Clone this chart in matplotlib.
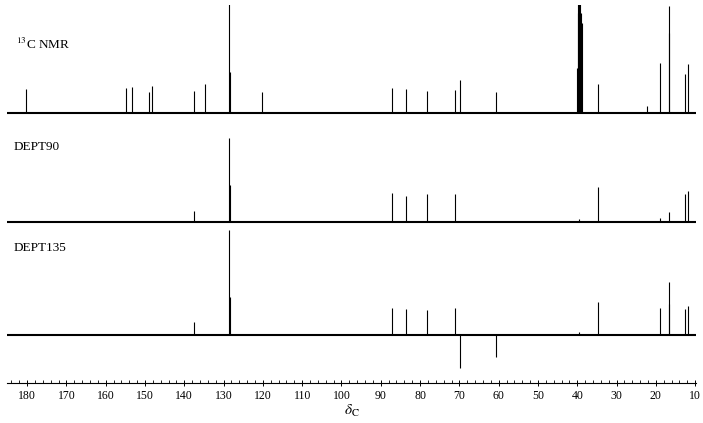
import matplotlib.pyplot as plt
from matplotlib.ticker import MultipleLocator

plt.rcParams['font.family'] = ['Liberation Serif', 'DejaVu Serif']
plt.rcParams['mathtext.fontset'] = 'stix'

# 13C NMR peaks (ppm, height)
c13_ppm = [180.3, 154.8, 153.4, 148.9, 148.3, 137.5, 134.8, 128.55, 128.45, 120.1,
           87.1, 83.7, 78.2, 71.0, 69.8, 60.7,
           40.1, 39.9, 39.7, 39.5, 39.3, 39.1, 38.9,
           34.7, 22.2, 19.0, 16.7, 16.55, 12.6, 11.8]
c13_h = [24, 25, 26, 21, 27, 22, 29, 110, 41, 21,
         25, 24, 22, 23, 33, 21,
         45, 100, 130, 140, 130, 100, 90,
         29, 7, 50, 107, 80, 39, 49]

# DEPT90
d90_ppm = [137.5, 128.55, 128.45, 87.1, 83.7, 78.2, 71.0, 39.5, 34.7, 19.0, 16.7, 12.6, 11.8]
d90_h = [11, 84, 37, 29, 26, 28, 28, 3, 35, 4, 10, 28, 31]

# DEPT135
d135_ppm = [137.5, 128.55, 128.45, 87.1, 83.7, 78.2, 71.0, 69.8, 60.7, 39.5,
            34.7, 19.0, 16.7, 16.55, 12.6, 11.8]
d135_h = [13, 105, 38, 27, 26, 25, 27, -33, -22, 3,
          33, 27, 53, 31, 26, 29]

spectra = [(c13_ppm, c13_h, 270),
           (d90_ppm, d90_h, 161),
           (d135_ppm, d135_h, 48)]

fig = plt.figure(figsize=(7.03, 4.23), dpi=100)
ax = fig.add_axes([0.01, 0.0946, 0.98, 0.894])

xmin, xmax = 185.1, 9.8
for ppm, h, base in spectra:
    ax.plot([xmin, xmax], [base, base], color='black', lw=1.5)
    ax.vlines(ppm, base, [base + v for v in h], color='black', lw=0.8)

ax.text(0.013, 0.895, "$^{13}$C NMR", transform=ax.transAxes, fontsize=9.5, va='center')
ax.text(0.01, 0.625, "DEPT90", transform=ax.transAxes, fontsize=9.5, va='center')
ax.text(0.01, 0.358, "DEPT135", transform=ax.transAxes, fontsize=9.5, va='center')

ax.set_xlim(xmin, xmax)
ax.set_ylim(0, 378)
for s in ['top', 'left', 'right']:
    ax.spines[s].set_visible(False)
ax.spines['bottom'].set_linewidth(0.8)
ax.set_yticks([])
ax.xaxis.set_major_locator(MultipleLocator(10))
ax.xaxis.set_minor_locator(MultipleLocator(2))
ax.tick_params(axis='x', which='major', direction='inout', length=4, width=0.7, labelsize=8.5, pad=3)
ax.tick_params(axis='x', which='minor', direction='in', length=2, width=0.6)
ax.set_xlabel(r"$\delta_{\mathrm{C}}$", fontsize=11, labelpad=1)

fig.savefig("out.png", dpi=100)
